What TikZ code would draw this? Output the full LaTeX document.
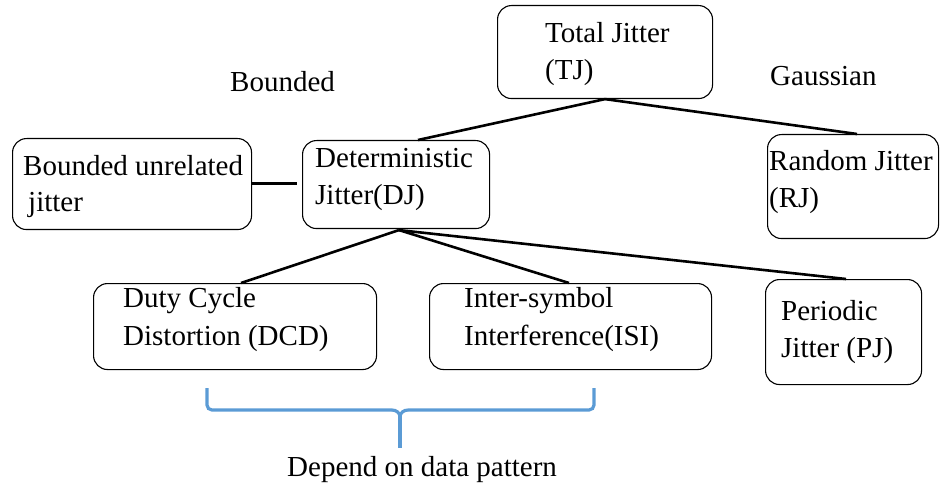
\documentclass[tikz,border=0pt]{standalone}
\usepackage{fontspec}
\setmainfont{Liberation Serif}
\usetikzlibrary{calc}
\definecolor{braceblue}{HTML}{5B9BD5}
\tikzset{
  box/.style={draw, rounded corners=14pt, line width=1.1pt, inner sep=0pt, anchor=north west},
  txt/.style={anchor=base west, inner sep=0pt, font=\fontsize{29}{35}\selectfont},
  link/.style={line width=2.6pt},
  bracepath/.style={draw=braceblue, line width=3.2pt, rounded corners=5pt}
}
\newcommand{\boxat}[5]{% name, x1, y1, x2, y2
  \node[box, minimum width={#4-#2}, minimum height={#5-#3}] (#1) at (#2,#3) {};}
\begin{document}
\begin{tikzpicture}[x=1pt, y=-1pt]
\useasboundingbox (0,0) rectangle (940,489);

% boxes
\boxat{tj}{497}{5}{712}{98}
\boxat{buj}{12}{138}{251}{229}
\boxat{dj}{302}{140}{489}{228}
\boxat{rj}{767}{134}{938}{238}
\boxat{dcd}{93}{283}{376}{369}
\boxat{isi}{429}{283}{711}{369}
\boxat{pj}{765}{279}{921}{384}

% box texts
\node[txt] (tja) at (545,43) {Total Jitter};
\node[txt] (tjb) at (545,80) {(TJ)};
\node[txt] (buja) at (23,176) {Bounded unrelated};
\node[txt] (bujb) at (28,212) {jitter};
\node[txt] (dja) at (315,168) {Deterministic};
\node[txt] (djb) at (315,205) {Jitter(DJ)};
\node[txt] (rja) at (769,171) {Random Jitter};
\node[txt] (rjb) at (769,208) {(RJ)};
\node[txt] (dcda) at (123,307) {Duty Cycle};
\node[txt] (dcdb) at (123,345) {Distortion (DCD)};
\node[txt] (isia) at (464,307) {Inter-symbol};
\node[txt] (isib) at (464,345) {Interference(ISI)};
\node[txt] (pja) at (781,320) {Periodic};
\node[txt] (pjb) at (781,357) {Jitter (PJ)};

% free labels
\node[txt] (bnd) at (230,92) {Bounded};
\node[txt] (gau) at (770,86) {Gaussian};
\node[txt] (dep) at (287,476) {Depend on data pattern};

% connectors
\coordinate (tjfoot) at ($(tj.south west)+(108,0)$);
\draw[link] (tjfoot) -- ($(dj.north west)+(116,0)$);
\draw[link] (tjfoot) -- ($(rj.north west)+(90,0)$);
\coordinate (bujend) at ($(dj.west)+(-5,-1)$);
\draw[link] (buj.east |- bujend) -- (bujend);
\coordinate (djfoot) at ($(dj.south west)+(97,1)$);
\draw[link] (djfoot) -- ($(dcd.north west)+(148,0)$);
\draw[link] (djfoot) -- ($(isi.north west)+(140,0)$);
\draw[link] (djfoot) -- ($(pj.north west)+(81,0)$);

% brace under the data-dependent terms
\coordinate (brl) at (207,388);
\coordinate (brr) at (594,388);
\coordinate (brtip) at (400,448);
\draw[bracepath] (brl) -- (207,410) -- (392,410);
\draw[bracepath] (brr) -- (594,410) -- (408,410);
\draw[draw=braceblue, line width=3.2pt] (392,410) to[out=0, in=90] (400,417) to[out=90, in=180] (408,410);
\draw[draw=braceblue, line width=3.2pt] (400,416) -- (brtip);
\end{tikzpicture}
\end{document}
